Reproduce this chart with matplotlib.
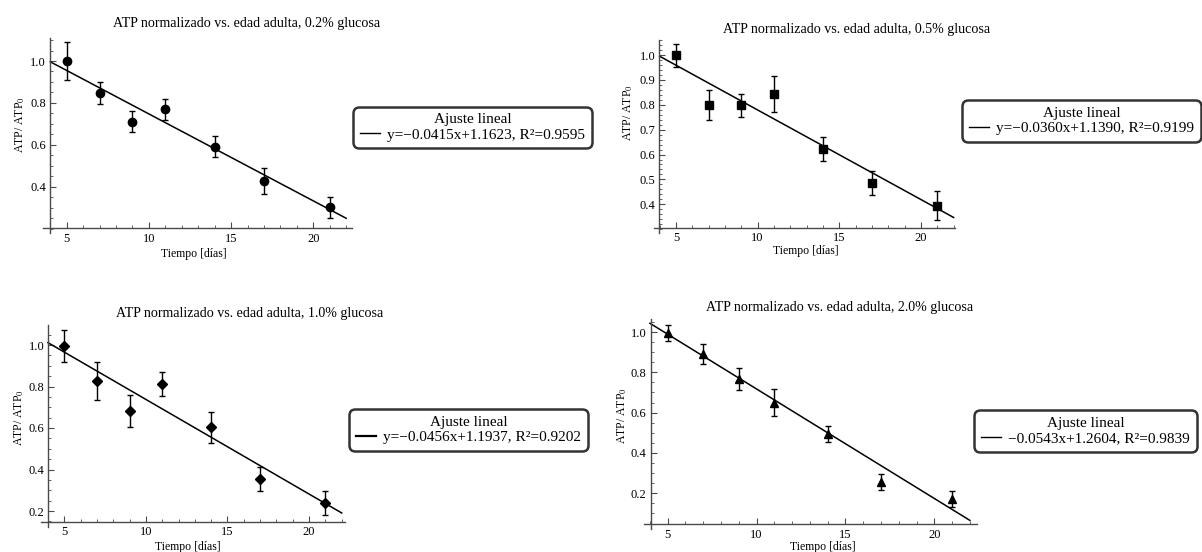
import matplotlib
matplotlib.use("Agg")
import matplotlib.pyplot as plt
from matplotlib.ticker import MultipleLocator, FormatStrFormatter
from matplotlib.lines import Line2D

plt.rcParams["font.family"] = ["Liberation Serif", "DejaVu Serif"]
plt.rcParams["mathtext.fontset"] = "stix"

W, H = 1202, 552

# Measurement days
dias = [5, 7, 9, 11, 14, 17, 21]

# Normalised ATP and error per glucose concentration
atp_02 = [1.000, 0.846, 0.709, 0.769, 0.591, 0.427, 0.301]
err_02 = [0.089, 0.052, 0.050, 0.051, 0.050, 0.062, 0.050]

atp_05 = [0.998, 0.798, 0.798, 0.842, 0.621, 0.486, 0.395]
err_05 = [0.045, 0.060, 0.046, 0.073, 0.048, 0.047, 0.057]

atp_10 = [0.995, 0.826, 0.682, 0.810, 0.603, 0.356, 0.237]
err_10 = [0.077, 0.090, 0.077, 0.058, 0.074, 0.058, 0.058]

atp_20 = [0.993, 0.889, 0.765, 0.650, 0.496, 0.257, 0.172]
err_20 = [0.040, 0.050, 0.055, 0.066, 0.040, 0.040, 0.040]

# Linear fits (slope, intercept, R^2)
pendientes = [-0.0415, -0.0360, -0.0456, -0.0543]
ordenadas = [1.1623, 1.1390, 1.1937, 1.2604]
r2 = [0.9595, 0.9199, 0.9202, 0.9839]
etiquetas_ajuste = [
    "y=\u22120.0415x+1.1623, R\u00b2=0.9595",
    "y=\u22120.0360x+1.1390, R\u00b2=0.9199",
    "y=\u22120.0456x+1.1937, R\u00b2=0.9202",
    "\u22120.0543x+1.2604, R\u00b2=0.9839",
]
titulos = [
    "ATP normalizado vs. edad adulta, 0.2% glucosa",
    "ATP normalizado vs. edad adulta, 0.5% glucosa",
    "ATP normalizado vs. edad adulta, 1.0% glucosa",
    "ATP normalizado vs. edad adulta, 2.0% glucosa",
]
series = [(atp_02, err_02), (atp_05, err_05), (atp_10, err_10), (atp_20, err_20)]
marcadores = ["o", "s", "D", "^"]
tam_marcador = [6.0, 5.2, 5.0, 5.6]

# Layout: pixel mapping of two x values and two y values, plus limits
paneles = [
    dict(xref=(5, 66.7, 20, 313.3), yref=(1.0, 61.0, 0.4, 186.7),
         xlim=(3.57, 22.33), ylim=(0.177, 1.108), cruce=(4.0, 0.201),
         ymaj=0.2, ymin=0.05, title=(247, 23), xlab=(194, 254), ylab=(20, 125),
         leg=(356, 127.5)),
    dict(xref=(5, 676.0, 20, 921.0), yref=(1.0, 55.0, 0.4, 204.3),
         xlim=(3.63, 22.1), ylim=(0.285, 1.06), cruce=(3.98, 0.304),
         ymaj=0.1, ymin=0.02, title=(857, 30), xlab=(806, 251), ylab=(628, 113),
         leg=(965, 121)),
    dict(xref=(5, 64.3, 22, 341.7), yref=(1.0, 345.0, 0.2, 511.0),
         xlim=(3.6, 22.2), ylim=(0.125, 1.095), cruce=(4.03, 0.147),
         ymaj=0.2, ymin=0.05, title=(250, 314), xlab=(188, 547), ylab=(19, 418),
         leg=(352, 430)),
    dict(xref=(5, 667.7, 20, 934.3), yref=(1.0, 332.0, 0.2, 493.3),
         xlim=(3.65, 22.4), ylim=(0.025, 1.066), cruce=(4.04, 0.046),
         ymaj=0.2, ymin=0.05, title=(840, 308), xlab=(823, 547), ylab=(622, 416),
         leg=(977, 431)),
]

fig = plt.figure(figsize=(W / 100, H / 100), dpi=100)
gris = "#4a4a4a"

for i, p in enumerate(paneles):
    xa, pxa, xb, pxb = p["xref"]
    ya, pya, yb, pyb = p["yref"]
    sx = (pxb - pxa) / (xb - xa)
    sy = (pyb - pya) / (yb - ya)  # negative: pixels grow downward
    x0, x1 = p["xlim"]
    y0, y1 = p["ylim"]
    left = pxa + (x0 - xa) * sx
    right = pxa + (x1 - xa) * sx
    top = pya + (y1 - ya) * sy
    bottom = pya + (y0 - ya) * sy
    ax = fig.add_axes([left / W, 1 - bottom / H, (right - left) / W, (bottom - top) / H])
    ax.set_xlim(x0, x1)
    ax.set_ylim(y0, y1)

    y, e = series[i]
    ax.errorbar(dias, y, yerr=e, fmt=marcadores[i], color="black",
                markersize=tam_marcador[i], ecolor="black", elinewidth=1.0,
                capsize=2.0, capthick=1.0, zorder=3)

    xs = [4, 22]
    ax.plot(xs, [pendientes[i] * x + ordenadas[i] for x in xs], color="black",
            linewidth=1.1, zorder=2)

    for s in ("top", "right"):
        ax.spines[s].set_visible(False)
    ax.spines["left"].set_position(("data", p["cruce"][0]))
    ax.spines["bottom"].set_position(("data", p["cruce"][1]))
    for s in ("left", "bottom"):
        ax.spines[s].set_color(gris)
        ax.spines[s].set_linewidth(1.0)

    ax.xaxis.set_minor_locator(MultipleLocator(1))
    ax.yaxis.set_major_locator(MultipleLocator(p["ymaj"]))
    ax.yaxis.set_minor_locator(MultipleLocator(p["ymin"]))
    ax.tick_params(which="major", direction="in", length=4, width=0.8, color=gris,
                   labelsize=9, pad=3)
    ax.tick_params(which="minor", direction="in", length=2, width=0.6, color=gris)
    ax.yaxis.set_major_formatter(FormatStrFormatter("%.1f"))
    ax.set_xticks([5, 10, 15, 20])
    ax.set_yticks([t for t in ax.get_yticks() if p["cruce"][1] + 0.01 < t <= y1])
    ax.patch.set_alpha(0)

    tx, ty = p["title"]
    fig.text(tx / W, 1 - ty / H, titulos[i], ha="center", va="center", fontsize=10.1)
    lx, ly = p["xlab"]
    fig.text(lx / W, 1 - ly / H, "Tiempo [días]", ha="center", va="center", fontsize=8.5)
    vx, vy = p["ylab"]
    fig.text(vx / W, 1 - vy / H, r"ATP/ ATP$_0$", ha="center", va="center",
             fontsize=8.5, rotation=90)

    lgx, lgy = p["leg"]
    handle = Line2D([], [], color="black", linewidth=1.0 if i != 2 else 1.6)
    leg = fig.legend([handle], [etiquetas_ajuste[i]], title="Ajuste lineal",
                     loc="center left", bbox_to_anchor=(lgx / W, 1 - lgy / H),
                     fontsize=11, title_fontsize=11, frameon=True, fancybox=True,
                     handlelength=1.3, handletextpad=0.5, borderpad=0.25,
                     labelspacing=0.1, borderaxespad=0)
    leg.get_frame().set_edgecolor("black")
    leg.get_frame().set_linewidth(1.8)
    leg.get_frame().set_boxstyle("round,pad=0.2,rounding_size=0.4")

fig.savefig("out.png", dpi=100)
